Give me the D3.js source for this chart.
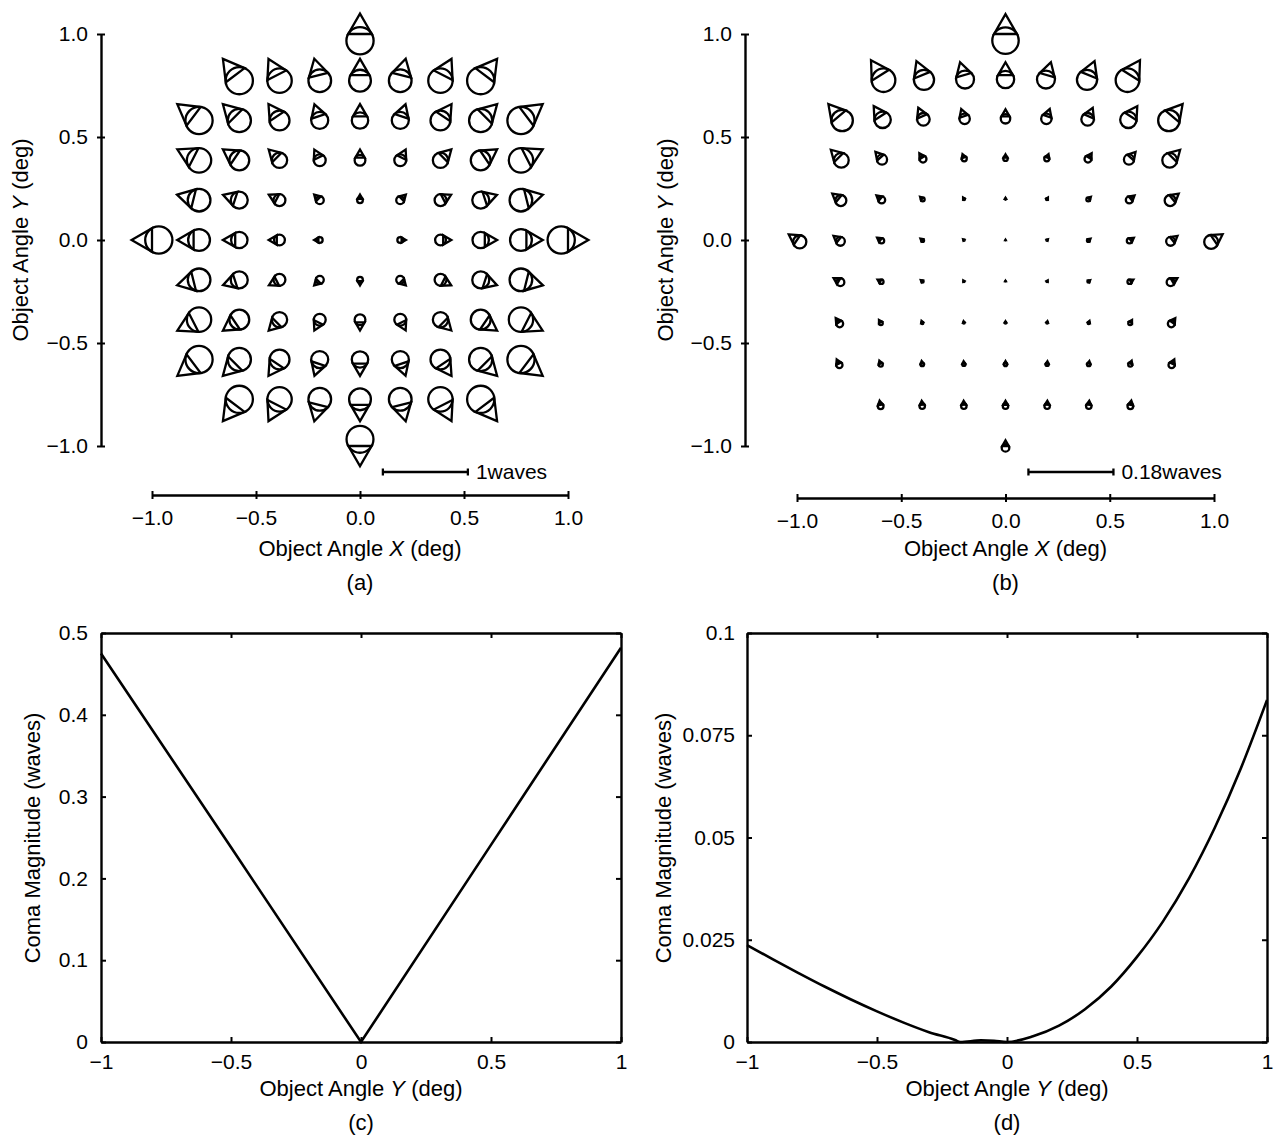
<!DOCTYPE html>
<html>
<head>
<meta charset="utf-8">
<script src="https://cdn.jsdelivr.net/npm/d3@7"></script>
<style>body { margin: 0; background: #fff; }</style>
</head>
<body>
<svg></svg>
<script>
// field grid: rows of object angle Y, and the X positions present in each row
var rowY = [1.0, 0.8, 0.6, 0.4, 0.2, 0.0, -0.2, -0.4, -0.6, -0.8, -1.0];
var rowX = [
    [0],
    [-0.6, -0.4, -0.2, 0, 0.2, 0.4, 0.6],
    [-0.8, -0.6, -0.4, -0.2, 0, 0.2, 0.4, 0.6, 0.8],
    [-0.8, -0.6, -0.4, -0.2, 0, 0.2, 0.4, 0.6, 0.8],
    [-0.8, -0.6, -0.4, -0.2, 0, 0.2, 0.4, 0.6, 0.8],
    [-1.0, -0.8, -0.6, -0.4, -0.2, 0, 0.2, 0.4, 0.6, 0.8, 1.0],
    [-0.8, -0.6, -0.4, -0.2, 0, 0.2, 0.4, 0.6, 0.8],
    [-0.8, -0.6, -0.4, -0.2, 0, 0.2, 0.4, 0.6, 0.8],
    [-0.8, -0.6, -0.4, -0.2, 0, 0.2, 0.4, 0.6, 0.8],
    [-0.6, -0.4, -0.2, 0, 0.2, 0.4, 0.6],
    [0]
];

// (a) coma magnitude (waves) and orientation (deg) per field point
var magA = [
    [0.48],
    [0.48, 0.43, 0.40, 0.385, 0.40, 0.43, 0.48],
    [0.48, 0.41, 0.35, 0.30, 0.29, 0.30, 0.35, 0.41, 0.48],
    [0.43, 0.35, 0.27, 0.21, 0.19, 0.21, 0.27, 0.35, 0.43],
    [0.40, 0.30, 0.21, 0.14, 0.10, 0.14, 0.21, 0.30, 0.40],
    [0.48, 0.385, 0.29, 0.19, 0.10, 0, 0.10, 0.19, 0.29, 0.385, 0.48],
    [0.40, 0.30, 0.21, 0.14, 0.10, 0.14, 0.21, 0.30, 0.40],
    [0.43, 0.35, 0.27, 0.21, 0.19, 0.21, 0.27, 0.35, 0.43],
    [0.48, 0.41, 0.35, 0.30, 0.29, 0.30, 0.35, 0.41, 0.48],
    [0.48, 0.43, 0.40, 0.385, 0.40, 0.43, 0.48],
    [0.475]
];
var angA = [
    [90],
    [127, 117, 104, 90, 76, 63, 53],
    [143, 135, 124, 108, 90, 72, 56, 45, 37],
    [153, 146, 135, 117, 90, 63, 45, 34, 27],
    [166, 162, 153, 135, 90, 45, 27, 18, 14],
    [180, 180, 180, 180, 180, 0, 0, 0, 0, 0, 0],
    [-166, -162, -153, -135, -90, -45, -27, -18, -14],
    [-153, -146, -135, -117, -90, -63, -45, -34, -27],
    [-143, -135, -124, -108, -90, -72, -56, -45, -37],
    [-127, -117, -104, -90, -76, -63, -53],
    [-90]
];

// (b)
var magB = [
    [0.084],
    [0.075, 0.064, 0.057, 0.055, 0.057, 0.064, 0.075],
    [0.068, 0.052, 0.040, 0.033, 0.030, 0.033, 0.040, 0.052, 0.068],
    [0.047, 0.032, 0.022, 0.016, 0.014, 0.016, 0.022, 0.032, 0.047],
    [0.035, 0.022, 0.012, 0.006, 0.004, 0.006, 0.012, 0.022, 0.035],
    [0.042, 0.028, 0.017, 0.009, 0.004, 0.001, 0.004, 0.009, 0.017, 0.028, 0.044],
    [0.025, 0.014, 0.007, 0.004, 0.002, 0.004, 0.007, 0.014, 0.025],
    [0.022, 0.012, 0.007, 0.005, 0.005, 0.005, 0.007, 0.012, 0.022],
    [0.020, 0.013, 0.011, 0.010, 0.0105, 0.010, 0.011, 0.013, 0.020],
    [0.018, 0.017, 0.017, 0.017, 0.017, 0.017, 0.018],
    [0.024]
];
var angB = [
    [90],
    [122, 112, 106, 90, 74, 68, 58],
    [130, 123, 114, 109, 90, 71, 66, 57, 50],
    [135, 131, 122, 110, 90, 70, 58, 49, 45],
    [141, 140, 135, 120, 90, 60, 45, 40, 39],
    [146, 142, 145, 140, 135, 90, 45, 40, 35, 38, 34],
    [150, 150, 140, 120, 90, 60, 40, 30, 30],
    [125, 120, 110, 100, 90, 80, 70, 60, 55],
    [115, 110, 100, 95, 90, 85, 80, 70, 65],
    [100, 95, 92, 90, 88, 85, 80],
    [90]
];

var fieldTicks = [-1.0, -0.5, 0.0, 0.5, 1.0];

// (c) and (d): coma magnitude along object angle Y
var cY = [-1, -0.5, 0, 0.5, 1];
var cMag = [0.475, 0.238, 0.0, 0.241, 0.482];
var dY = [-1.0, -0.9, -0.8, -0.7, -0.6, -0.5, -0.4, -0.3, -0.2, -0.18, -0.1, -0.05, 0.0,
          0.1, 0.2, 0.3, 0.4, 0.5, 0.6, 0.7, 0.8, 0.9, 1.0];
var dMag = [0.0237, 0.0202, 0.0168, 0.0135, 0.0104, 0.0075, 0.0048, 0.0024, 0.0005, 0.0, 0.0004, 0.0003, 0.0,
            0.0014, 0.0040, 0.0080, 0.0135, 0.0208, 0.0295, 0.0400, 0.0525, 0.0670, 0.0836];
var cTicksX = [-1, -0.5, 0, 0.5, 1];
var cTicksY = [0, 0.1, 0.2, 0.3, 0.4, 0.5];
var dTicksY = [0, 0.025, 0.05, 0.075, 0.1];

var FONT = "'Liberation Sans', Arial, Helvetica, sans-serif";

var svg = d3.select('svg')
    .attr('width', 1274)
    .attr('height', 1135)
    .style('background', '#fff');

function label(x, y, parts, rotate, size) {
    var t = svg.append('text')
        .attr('text-anchor', 'middle')
        .attr('dy', '0.35em')
        .style('font-family', FONT)
        .style('font-size', (size || 22) + 'px')
        .attr('transform', 'translate(' + x + ',' + y + ')' + (rotate ? 'rotate(-90)' : ''));
    parts.forEach(function (p) {
        t.append('tspan').style('font-style', p[1] ? 'italic' : 'normal').text(p[0]);
    });
}

// full field display panel
function fieldPanel(cfg) {
    var x = d3.scaleLinear().domain([-1, 1]).range(cfg.xr),
        y = d3.scaleLinear().domain([-1, 1]).range([446, 34]);

    var gy = svg.append('g')
        .attr('transform', 'translate(' + cfg.axX + ',0)')
        .call(d3.axisLeft(y).tickValues(fieldTicks).tickFormat(d3.format('.1f'))
            .tickSize(4).tickSizeOuter(0).tickPadding(9));
    gy.selectAll('.tick line').attr('x1', 4);

    var gx = svg.append('g')
        .attr('transform', 'translate(0,' + cfg.axY + ')')
        .call(d3.axisBottom(x).tickValues(fieldTicks).tickFormat(d3.format('.1f'))
            .tickSize(4).tickSizeOuter(0).tickPadding(11));
    gx.selectAll('.tick line').attr('y1', -4);

    [gx, gy].forEach(function (g) {
        g.attr('font-family', FONT).attr('font-size', 21);
        g.select('.domain').attr('stroke-width', 2.4);
        g.selectAll('.tick line').attr('stroke-width', 2);
    });

    // flatten spots
    var spots = [];
    rowY.forEach(function (fy, i) {
        rowX[i].forEach(function (fx, j) {
            spots.push({ fx: fx, fy: fy, m: cfg.mag[i][j], a: cfg.ang[i][j] });
        });
    });

    var g = svg.append('g')
        .attr('fill', 'none')
        .attr('stroke', '#000')
        .attr('stroke-width', 2.3)
        .attr('stroke-linejoin', 'miter');

    spots.filter(function (d) { return d.m > 0; }).forEach(function (d) {
        var px = x(d.fx), py = y(d.fy);
        var r = d.m * cfg.pxPerWave / 3;
        var t = d.a * Math.PI / 180;
        var ux = Math.cos(t), uy = -Math.sin(t);   // toward apex
        var vx = -uy, vy = ux;                      // perpendicular
        var cx = px - 0.5 * r * ux, cy = py - 0.5 * r * uy;
        g.append('circle').attr('cx', cx).attr('cy', cy).attr('r', r);
        var s = 0.866 * r;
        g.append('path').attr('d',
            'M' + (px + 1.5 * r * ux) + ',' + (py + 1.5 * r * uy) +
            'L' + (px + s * vx) + ',' + (py + s * vy) +
            'L' + (px - s * vx) + ',' + (py - s * vy) + 'Z');
    });

    // scale bar
    var bx0 = x(0.11), bx1 = bx0 + cfg.barWaves * cfg.pxPerWave, by = 472;
    var bar = svg.append('g').attr('stroke', '#000').attr('stroke-width', 2.3);
    bar.append('line').attr('x1', bx0).attr('x2', bx1).attr('y1', by).attr('y2', by);
    bar.append('line').attr('x1', bx0).attr('x2', bx0).attr('y1', by - 3.5).attr('y2', by + 3.5);
    bar.append('line').attr('x1', bx1).attr('x2', bx1).attr('y1', by - 3.5).attr('y2', by + 3.5);
    svg.append('text')
        .attr('x', bx1 + 8).attr('y', by).attr('dy', '0.35em')
        .style('font-family', FONT).style('font-size', '21px')
        .text(cfg.barText);

    var mid = x(0);
    label(mid, 548, [['Object Angle '], ['X', true], [' (deg)']]);
    label(cfg.titleX, 240, [['Object Angle '], ['Y', true], [' (deg)']], true);
    label(mid, 582, [[cfg.tag]]);
}

fieldPanel({ xr: [152, 568], axX: 101, axY: 495, mag: magA, ang: angA,
    pxPerWave: 85, barWaves: 1, barText: '1waves', titleX: 20, tag: '(a)' });
fieldPanel({ xr: [797, 1214], axX: 745, axY: 498, mag: magB, ang: angB,
    pxPerWave: 85 / 0.18, barWaves: 0.18, barText: '0.18waves', titleX: 665, tag: '(b)' });

// line plot panel
function linePanel(cfg) {
    var x = d3.scaleLinear().domain([-1, 1]).range(cfg.xr),
        y = d3.scaleLinear().domain([0, cfg.ymax]).range([1042, 633]);
    var x0 = cfg.xr[0], x1 = cfg.xr[1];

    var axes = [
        svg.append('g').attr('transform', 'translate(0,1042)')
            .call(d3.axisBottom(x).tickValues(cTicksX).tickFormat(d3.format('~g'))
                .tickSizeInner(-5).tickSizeOuter(0).tickPadding(12)),
        svg.append('g').attr('transform', 'translate(0,633)')
            .call(d3.axisTop(x).tickValues(cTicksX).tickFormat('')
                .tickSizeInner(-5).tickSizeOuter(0)),
        svg.append('g').attr('transform', 'translate(' + x0 + ',0)')
            .call(d3.axisLeft(y).tickValues(cfg.yticks).tickFormat(d3.format('~g'))
                .tickSizeInner(-5).tickSizeOuter(0).tickPadding(cfg.ypad)),
        svg.append('g').attr('transform', 'translate(' + x1 + ',0)')
            .call(d3.axisRight(y).tickValues(cfg.yticks).tickFormat('')
                .tickSizeInner(-5).tickSizeOuter(0))
    ];
    axes.forEach(function (g) {
        g.attr('font-family', FONT).attr('font-size', 21);
        g.select('.domain').attr('stroke-width', 2.4);
        g.selectAll('.tick line').attr('stroke-width', 2);
    });

    var line = d3.line()
        .x(function (d) { return x(d[0]); })
        .y(function (d) { return y(d[1]); })
        .curve(cfg.curve);

    svg.append('path')
        .datum(d3.zip(cfg.xs, cfg.ys))
        .attr('d', line)
        .style('fill', 'none')
        .style('stroke', '#000')
        .style('stroke-width', 2.6);

    var mid = (x0 + x1) / 2;
    label(mid, 1088, [['Object Angle '], ['Y', true], [' (deg)']]);
    label(cfg.titleX, 838, [['Coma Magnitude (waves)']], true);
    label(mid, 1122, [[cfg.tag]]);
}

linePanel({ xr: [101, 621], ymax: 0.5, yticks: cTicksY, ypad: 13, xs: cY, ys: cMag,
    curve: d3.curveLinear, titleX: 32, tag: '(c)' });
linePanel({ xr: [747, 1267], ymax: 0.1, yticks: dTicksY, ypad: 12, xs: dY, ys: dMag,
    curve: d3.curveMonotoneX, titleX: 663, tag: '(d)' });
</script>
</body>
</html>
